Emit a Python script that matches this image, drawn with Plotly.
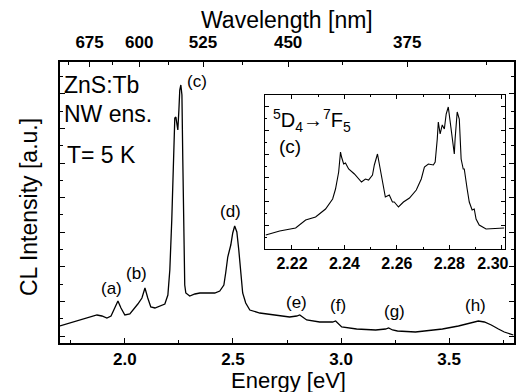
import plotly.graph_objects as go

# Main spectrum: energy [eV] and CL intensity [a.u.]
energy = [1.700, 1.746, 1.792, 1.839, 1.871, 1.894, 1.917, 1.936, 1.954, 1.968, 1.982, 2.000,
          2.023, 2.046, 2.060, 2.079, 2.093, 2.106, 2.120, 2.139, 2.162, 2.185, 2.199, 2.208,
          2.217, 2.227, 2.231, 2.236, 2.240, 2.245, 2.250, 2.254, 2.259, 2.264, 2.268, 2.273,
          2.277, 2.282, 2.300, 2.324, 2.347, 2.393, 2.416, 2.439, 2.458, 2.467, 2.476, 2.490,
          2.499, 2.508, 2.518, 2.527, 2.536, 2.545, 2.559, 2.578, 2.624, 2.684, 2.762, 2.795,
          2.809, 2.822, 2.841, 2.901, 2.961, 2.975, 2.984, 3.003, 3.072, 3.160, 3.206, 3.220,
          3.238, 3.261, 3.344, 3.469, 3.543, 3.594, 3.635, 3.663, 3.695, 3.728, 3.755, 3.797]
intensity = [17, 20, 23, 26, 28, 27, 25, 27, 35, 42, 35, 28,
             29, 35, 39, 45, 55, 45, 36, 35, 37, 39, 48, 73,
             123, 193, 225, 226, 218, 213, 233, 253, 258, 248, 183, 103,
             58, 50, 47, 49, 50, 50, 50, 52, 58, 71, 86, 98,
             110, 117, 111, 93, 68, 50, 40, 33, 30, 28, 26, 27,
             28, 26, 23, 21, 21, 22, 20, 16, 14, 13, 14, 15,
             13, 12, 11, 14, 17, 20, 22, 21, 18, 14, 11, 8]

# Inset: 5D4 -> 7F5 transition (c)
inset_energy = [2.2100, 2.2153, 2.2214, 2.2252, 2.2290, 2.2328, 2.2355, 2.2366, 2.2378, 2.2385,
                2.2389, 2.2397, 2.2404, 2.2416, 2.2438, 2.2457, 2.2465, 2.2480, 2.2492, 2.2507,
                2.2514, 2.2526, 2.2533, 2.2545, 2.2556, 2.2571, 2.2583, 2.2590, 2.2606, 2.2625,
                2.2648, 2.2674, 2.2693, 2.2705, 2.2720, 2.2739, 2.2746, 2.2754, 2.2758, 2.2765,
                2.2773, 2.2781, 2.2788, 2.2796, 2.2800, 2.2811, 2.2819, 2.2822, 2.2830, 2.2838,
                2.2845, 2.2853, 2.2857, 2.2868, 2.2876, 2.2887, 2.2895, 2.2902, 2.2914, 2.2940,
                2.3009]
inset_intensity = [14, 18, 21, 29, 32, 40, 50, 60, 77, 97,
                   92, 85, 86, 80, 75, 70, 67, 70, 69, 74,
                   84, 95, 85, 64, 52, 54, 47, 47, 42, 47,
                   51, 59, 70, 82, 85, 84, 87, 110, 127, 115,
                   124, 120, 135, 142, 134, 107, 95, 110, 137, 130,
                   90, 80, 80, 60, 47, 39, 40, 30, 24, 20,
                   21]

# Axis ticks
energy_ticks = [2.0, 2.5, 3.0, 3.5]
energy_minor = [1.75, 2.25, 2.75, 3.25, 3.75]
wavelength_labels = [675, 600, 525, 450, 375]
wavelength_minor = [712.5, 637.5, 562.5, 487.5, 412.5, 337.5]
inset_ticks = [2.22, 2.24, 2.26, 2.28, 2.30]
inset_minor = [2.21, 2.23, 2.25, 2.27, 2.29]

# Peak labels
peak_labels = ["(a)", "(b)", "(c)", "(d)", "(e)", "(f)", "(g)", "(h)"]
peak_label_x = [1.940, 2.056, 2.333, 2.490, 2.795, 2.984, 3.247, 3.621]
peak_label_y = [55, 70, 262, 132, 41, 38, 32, 38]

HC = 1239.84
FONT = "Liberation Sans, Arial, sans-serif"

fig = go.Figure()
fig.add_trace(go.Scatter(x=energy, y=intensity, mode="lines",
                         line=dict(color="black", width=1.3), showlegend=False))
fig.add_trace(go.Scatter(x=[None], y=[None], xaxis="x2", yaxis="y", showlegend=False))
fig.add_trace(go.Scatter(x=inset_energy, y=inset_intensity, mode="lines",
                         line=dict(color="black", width=1.1), xaxis="x3", yaxis="y3",
                         showlegend=False))

y_major = [7 + 34.6 * k for k in range(8)]
y_minor = [24.3 + 34.6 * k for k in range(8)]
iy_major = [23.7 * k for k in range(1, 7)]
iy_minor = [11.85 + 23.7 * k for k in range(0, 7)]

tickfont = dict(family=FONT, size=17, color="black")


def bold(s):
    return "<b>" + s + "</b>"


inset_text = [bold(f"{v:.2f}") for v in inset_ticks]
inset_text[-1] = bold(f"{inset_ticks[-1]:.2f}") + "\u00a0" * 4

fig.update_layout(
    width=516, height=392,
    margin=dict(l=60, r=2, t=62, b=49, autoexpand=False),
    paper_bgcolor="white", plot_bgcolor="white",
    font=dict(family=FONT, color="black"),
    xaxis=dict(range=[1.7, 3.8], showline=True, linecolor="black", linewidth=1.5,
               ticks="inside", ticklen=5, tickwidth=1.2, tickcolor="black",
               tickmode="array", tickvals=energy_ticks,
               ticktext=[bold(f"{v:.1f}") for v in energy_ticks],
               tickfont=tickfont, showgrid=False, zeroline=False, automargin=False,
               minor=dict(tickmode="array", tickvals=energy_minor, ticks="inside",
                          ticklen=3, tickcolor="black", showgrid=False)),
    xaxis2=dict(range=[1.7, 3.8], overlaying="x", side="top", anchor="y",
                showline=True, linecolor="black", linewidth=1.5,
                ticks="inside", ticklen=5, tickwidth=1.2, tickcolor="black",
                tickmode="array", tickvals=[HC / w for w in wavelength_labels],
                ticktext=[bold(str(w)) for w in wavelength_labels], ticklabelstandoff=5,
                tickfont=tickfont, showgrid=False, zeroline=False, automargin=False,
                minor=dict(tickmode="array", tickvals=[HC / w for w in wavelength_minor],
                           ticks="inside", ticklen=3, tickcolor="black", showgrid=False)),
    yaxis=dict(range=[0, 281], showline=True, linecolor="black", linewidth=1.5,
               mirror="ticks", ticks="inside", ticklen=5, tickwidth=1.2, tickcolor="black",
               tickmode="array", tickvals=y_major, showticklabels=False,
               showgrid=False, zeroline=False, automargin=False,
               minor=dict(tickmode="array", tickvals=y_minor, ticks="inside",
                          ticklen=3, tickcolor="black", showgrid=False)),
    xaxis3=dict(domain=[0.4515, 0.980], anchor="y3", range=[2.2097, 2.3012],
                showline=True, linecolor="black", linewidth=1.2, mirror="ticks",
                ticks="inside", ticklen=4, tickwidth=1, tickcolor="black",
                tickmode="array", tickvals=inset_ticks, ticktext=inset_text,
                ticklabeloverflow="allow", ticklabelstandoff=0,
                tickfont=dict(family=FONT, size=16, color="black"),
                showgrid=False, zeroline=False, automargin=False,
                minor=dict(tickmode="array", tickvals=inset_minor, ticks="inside",
                           ticklen=2, tickcolor="black", showgrid=False)),
    yaxis3=dict(domain=[0.3345, 0.8826], anchor="x3", range=[0, 154],
                showline=True, linecolor="black", linewidth=1.2, mirror="ticks",
                ticks="inside", ticklen=4, tickwidth=1, tickcolor="black",
                tickmode="array", tickvals=iy_major, showticklabels=False,
                showgrid=False, zeroline=False, automargin=False,
                minor=dict(tickmode="array", tickvals=iy_minor, ticks="inside",
                           ticklen=2, tickcolor="black", showgrid=False)),
)

annotations = []
for lab, px, py in zip(peak_labels, peak_label_x, peak_label_y):
    annotations.append(dict(x=px, y=py, xref="x", yref="y", text=lab, showarrow=False,
                            xanchor="center", yanchor="middle",
                            font=dict(family=FONT, size=17, color="black")))

big = dict(family=FONT, size=23, color="black")


def ptxt(px, py, text, xanchor="center", textangle=0, font=big):
    return dict(x=(px - 60) / 454, y=(343 - py) / 281, xref="paper", yref="paper",
                text=text, showarrow=False, xanchor=xanchor, yanchor="middle",
                textangle=textangle, font=font)


annotations += [
    ptxt(29, 207, "CL Intensity [a.u.]", textangle=-90),
    ptxt(288, 380, "Energy [eV]", font=dict(family=FONT, size=22, color="black")),
    ptxt(287, 20, "Wavelength [nm]"),
    ptxt(62, 85, "ZnS:Tb", xanchor="left"),
    ptxt(62, 114, "NW ens.", xanchor="left"),
    ptxt(65, 155, "T= 5 K", xanchor="left"),
    ptxt(271, 120, "<sup>5</sup>D<sub>4</sub>\u2192<sup>7</sup>F<sub>5</sub>", xanchor="left",
         font=dict(family=FONT, size=20, color="black")),
    ptxt(290, 146, "(c)", font=dict(family=FONT, size=19, color="black")),
]
fig.update_layout(annotations=annotations)

fig.write_html("out.html", config={"displayModeBar": False},
               post_script="document.body.style.margin='0';document.body.style.overflow='hidden';")
